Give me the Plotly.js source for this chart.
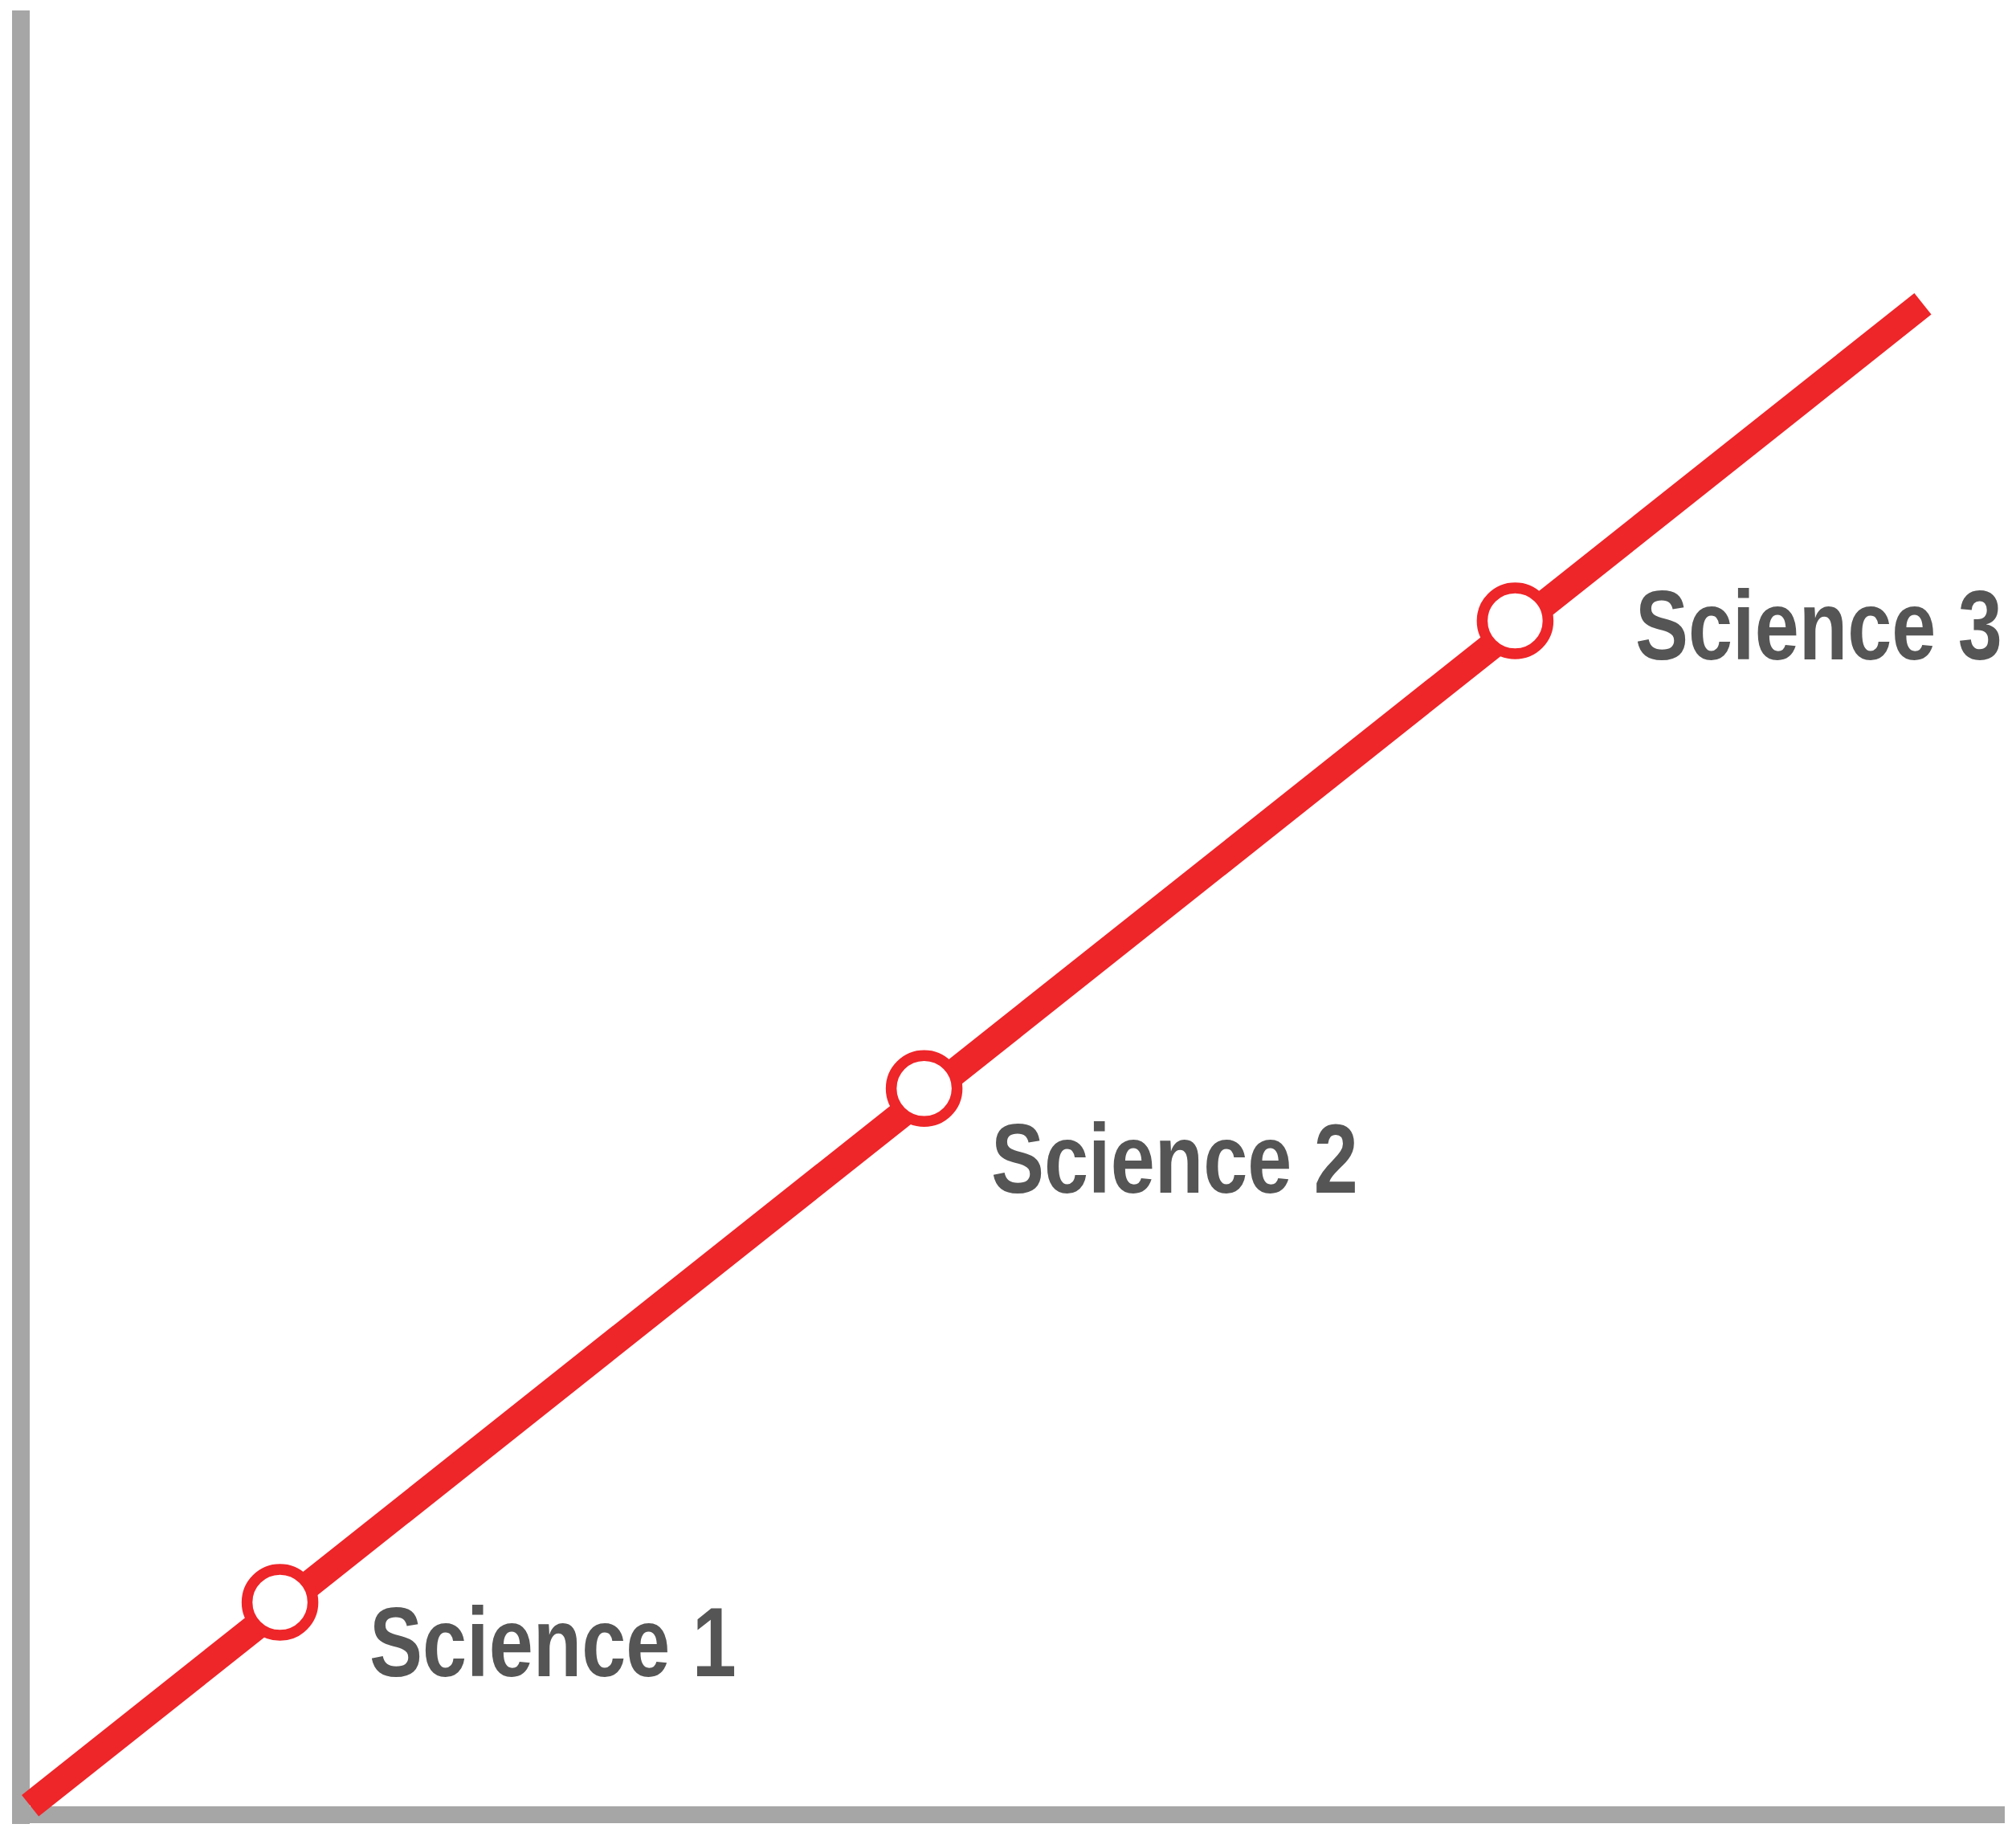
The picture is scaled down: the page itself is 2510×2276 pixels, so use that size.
<!DOCTYPE html>
<html><head><meta charset="utf-8">
<script src="https://cdn.plot.ly/plotly-3.0.1.min.js"></script>
<style>html,body{margin:0;padding:0;background:#fff;overflow:hidden}</style>
</head><body><div id="chart" style="width:2510px;height:2276px"></div>
<script>
// Trend line (start and end of the red progression line)
const trendX = [0.47, 95.87];
const trendY = [0.50, 83.74];
// Stage points and their labels
const stageNames = ['Science 1', 'Science 2', 'Science 3'];
const stageX = [13.06, 45.53, 75.32];
const stageY = [11.77, 40.25, 66.17];

const RED = '#ee2529';
const GREY = '#a6a6a6';
const TEXT = '#555555';
const NARROW = 0.805; // horizontal compression to mimic a narrow bold face

// label offsets from their points, in pixels (layout only)
const labelShiftX = [111, 83, 149.5];
const labelShiftY = [-49.5, -87.5, -6];

const traces = [
  { type: 'scatter', mode: 'lines', x: trendX, y: trendY,
    line: { color: RED, width: 34 }, hoverinfo: 'skip' },
  { type: 'scatter', mode: 'markers', x: stageX, y: stageY,
    marker: { symbol: 'circle', size: 82, color: '#ffffff', line: { color: RED, width: 13.5 } },
    hoverinfo: 'skip' }
];

const layout = {
  width: 2510, height: 2276,
  margin: { l: 15, r: 14, t: 13, b: 5, pad: 0 },
  paper_bgcolor: '#ffffff', plot_bgcolor: '#ffffff',
  showlegend: false,
  xaxis: { range: [-0.4453, 100], showgrid: false, showticklabels: false, ticks: '',
           showline: false, zeroline: true, zerolinecolor: GREY, zerolinewidth: 22, fixedrange: true },
  yaxis: { range: [-0.5119, 100], showgrid: false, showticklabels: false, ticks: '',
           showline: false, zeroline: true, zerolinecolor: GREY, zerolinewidth: 21, fixedrange: true },
  annotations: stageNames.map((name, i) => ({
    x: stageX[i], y: stageY[i], xref: 'x', yref: 'y',
    text: name, showarrow: false, xanchor: 'left', yanchor: 'middle',
    xshift: labelShiftX[i], yshift: labelShiftY[i],
    borderpad: 0, borderwidth: 0,
    font: { family: '"Liberation Sans", Arial, sans-serif',
            size: 123, color: TEXT, weight: 'bold' }
  }))
};

Plotly.newPlot('chart', traces, layout, { staticPlot: true, displayModeBar: false }).then(function (gd) {
  gd.querySelectorAll('.annotation-text-g text').forEach(function (t) {
    var bb = t.getBBox();
    var L = bb.x;
    t.setAttribute('transform', 'translate(' + L + ',0) scale(' + NARROW + ',1) translate(' + (-L) + ',0)');
  });
});
</script>
</body></html>
